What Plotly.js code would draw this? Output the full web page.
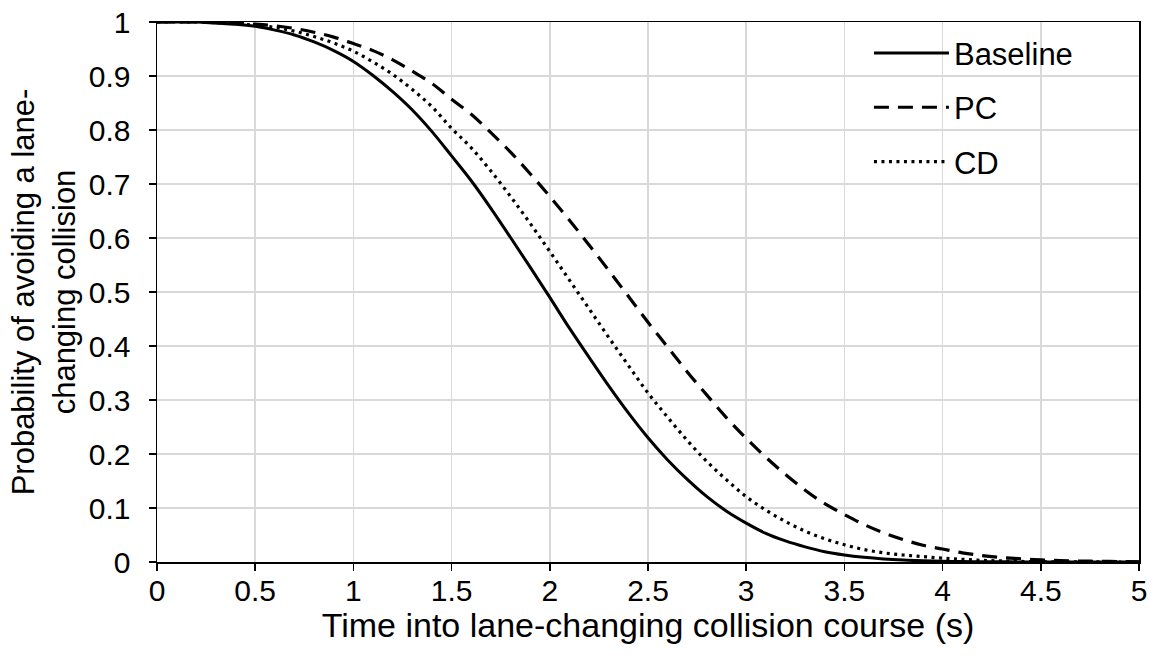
<!DOCTYPE html>
<html>
<head>
<meta charset="utf-8">
<script src="https://cdn.plot.ly/plotly-3.0.1.min.js"></script>
<style>html,body{margin:0;padding:0;background:#fff;}#chart{width:1155px;height:666px;}</style>
</head>
<body>
<div id="chart"></div>
<script>
const time = [0,0.1,0.2,0.3,0.4,0.5,0.6,0.7,0.8,0.9,1.0,1.1,1.2,1.3,1.4,1.5,1.6,1.7,1.8,1.9,2.0,2.1,2.2,2.3,2.4,2.5,2.6,2.7,2.8,2.9,3.0,3.1,3.2,3.3,3.4,3.5,3.6,3.7,3.8,3.9,4.0,4.1,4.2,4.3,4.4,4.5,4.6,4.7,4.8,4.9,5.0];
const baseline = [1,1,1,0.998,0.996,0.992,0.985,0.976,0.963,0.947,0.927,0.901,0.871,0.837,0.797,0.752,0.706,0.655,0.601,0.546,0.490,0.433,0.379,0.326,0.276,0.230,0.189,0.153,0.121,0.094,0.072,0.053,0.039,0.028,0.019,0.013,0.0087,0.0056,0.0035,0.0022,0.0013,0.0008,0.0005,0.0003,0.0002,0.0001,0,0,0,0,0];
const pc = [1,1,1,0.999,0.998,0.996,0.993,0.988,0.981,0.972,0.960,0.947,0.930,0.909,0.886,0.857,0.829,0.795,0.759,0.719,0.677,0.633,0.587,0.540,0.492,0.444,0.398,0.352,0.309,0.267,0.229,0.194,0.162,0.133,0.108,0.088,0.0695,0.054,0.0415,0.031,0.024,0.017,0.012,0.0085,0.006,0.004,0.0027,0.0018,0.0012,0.0008,0.0005];
const cd = [1,1,1,0.999,0.997,0.994,0.990,0.983,0.973,0.961,0.946,0.926,0.903,0.875,0.843,0.803,0.767,0.724,0.677,0.627,0.575,0.522,0.469,0.416,0.364,0.313,0.268,0.225,0.186,0.152,0.121,0.096,0.075,0.057,0.043,0.032,0.023,0.017,0.013,0.010,0.007,0.005,0.003,0.002,0.001,0.0006,0.0003,0.0002,0.0001,0,0];
const seriesNames = ['Baseline','PC','CD'];
const xTicks = [0,0.5,1,1.5,2,2.5,3,3.5,4,4.5,5];
const xTickText = ['0','0.5','1','1.5','2','2.5','3','3.5','4','4.5','5'];
const yTicks = [0,0.1,0.2,0.3,0.4,0.5,0.6,0.7,0.8,0.9,1];
const yTickText = ['0','0.1','0.2','0.3','0.4','0.5','0.6','0.7','0.8','0.9','1'];

const fam = 'Liberation Sans, Arial, sans-serif';
const font = {family:fam, size:30, color:'#000'};
const traces = [
  {x:time, y:baseline, name:seriesNames[0], legendgroup:'a', mode:'lines', line:{color:'#000', width:3, shape:'spline', dash:'solid'}},
  {x:time, y:pc, name:seriesNames[1], legendgroup:'b', mode:'lines', line:{color:'#000', width:3.2, shape:'spline', dash:'15px,9px'}},
  {x:time, y:cd, name:seriesNames[2], legendgroup:'c', mode:'lines', line:{color:'#000', width:3.2, shape:'spline', dash:'3px,4.5px'}}
];
const layout = {
  width:1155, height:666,
  margin:{l:157, r:16, t:22, b:104},
  paper_bgcolor:'#fff', plot_bgcolor:'#fff',
  font:font,
  showlegend:true,
  legend:{x:0.725, y:0.992, xanchor:'left', yanchor:'top', bgcolor:'rgba(0,0,0,0)', borderwidth:0,
          font:{family:fam, size:31, color:'#000'}, itemwidth:75, traceorder:'grouped', tracegroupgap:11},
  xaxis:{range:[0,5], tickvals:xTicks, ticktext:xTickText, showgrid:true, gridcolor:'#d9d9d9', gridwidth:1.5,
         zeroline:false, showline:true, linecolor:'#000', linewidth:1.5, mirror:true, automargin:false,
         ticks:'outside', ticklen:7, tickwidth:1.5, tickcolor:'#000', tickfont:font, ticklabelstandoff:-6,
         title:{text:'Time into lane-changing collision course (s)', font:{family:fam, size:34, color:'#000'}, standoff:6}},
  yaxis:{range:[0,1], tickvals:yTicks, ticktext:yTickText, showgrid:true, gridcolor:'#d9d9d9', gridwidth:1.5,
         zeroline:false, showline:true, linecolor:'#000', linewidth:1.5, mirror:true, automargin:false,
         ticks:'outside', ticklen:7, tickwidth:1.5, tickcolor:'#000', tickfont:font, ticklabelstandoff:12,
         title:{text:'Probability of avoiding a lane-<br>changing collision', font:{family:fam, size:31, color:'#000'}, standoff:4}}
};
Plotly.newPlot('chart', traces, layout, {displayModeBar:false, staticPlot:true});
</script>
</body>
</html>
